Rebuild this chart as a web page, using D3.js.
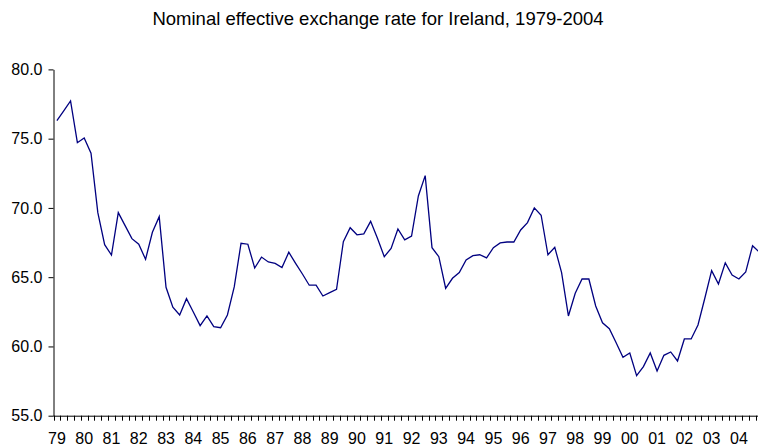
<!DOCTYPE html>
<html>
<head>
<meta charset="utf-8">
<script src="https://cdn.jsdelivr.net/npm/d3@7"></script>
<style>
  html, body { margin: 0; padding: 0; background: #fff; }
  svg { display: block; }
  text { font-family: "Liberation Sans", Arial, sans-serif; fill: #000; }
</style>
</head>
<body>
<svg id="chart" width="758" height="447"></svg>
<script>
const title = "Nominal effective exchange rate for Ireland, 1979-2004";
const years = ["79","80","81","82","83","84","85","86","87","88","89","90","91","92","93","94","95","96","97","98","99","00","01","02","03","04"];
const quarters = ["Q1","Q2","Q3","Q4"];
const values = [
  76.30, 77.01, 77.72, 74.71,
  75.05, 73.95, 69.66, 67.35,
  66.60, 69.66, 68.72, 67.78,
  67.38, 66.29, 68.24, 69.37,
  64.27, 62.83, 62.27, 63.45,
  62.49, 61.50, 62.20, 61.43,
  61.35, 62.27, 64.30, 67.45,
  67.38, 65.66, 66.45, 66.10,
  66.00, 65.69, 66.80, 66.00,
  65.23, 64.42, 64.42, 63.64,
  63.88, 64.13, 67.56, 68.57,
  68.06, 68.13, 69.03, 67.81,
  66.48, 67.08, 68.48, 67.69,
  67.97, 70.86, 72.33, 67.13,
  66.48, 64.20, 64.92, 65.33,
  66.24, 66.55, 66.62, 66.39,
  67.13, 67.47, 67.54, 67.54,
  68.41, 68.94, 70.00, 69.47,
  66.62, 67.16, 65.33, 62.20,
  63.84, 64.87, 64.87, 62.92,
  61.71, 61.28, 60.27, 59.22,
  59.53, 57.89, 58.54, 59.53,
  58.23, 59.36, 59.60, 58.95,
  60.54, 60.54, 61.55, 63.48,
  65.47, 64.51, 66.03, 65.16,
  64.87, 65.38, 67.27, 66.80
];
const yTicks = [55, 60, 65, 70, 75, 80];

const categories = [];
years.forEach(yr => quarters.forEach(q => categories.push(yr + q)));
const data = categories.map((c, i) => ({ cat: c, value: values[i] }));

const svg = d3.select("#chart");
const plotLeft = 53.5, plotTop = 69.4, plotBottom = 415.7;
const step = 6.82;
const plotRight = plotLeft + step * categories.length;

const x = d3.scaleBand().domain(categories).range([plotLeft, plotRight]).paddingInner(0).paddingOuter(0);
const y = d3.scaleLinear().domain([55, 80]).range([plotBottom, plotTop]);

// Title
svg.append("text")
  .attr("x", 378).attr("y", 25)
  .attr("text-anchor", "middle")
  .style("font-size", "18.5px")
  .text(title);

// Y axis
const yAxis = d3.axisLeft(y).tickValues(yTicks).tickFormat(d3.format(".1f")).tickSize(5).tickSizeOuter(0).tickPadding(6);
const gy = svg.append("g").attr("transform", `translate(${plotLeft},0)`).call(yAxis);
gy.select(".domain").attr("stroke", "#000");
gy.selectAll(".tick line").attr("stroke", "#000");
gy.selectAll(".tick text").style("font-size", "16px").style("font-family", "'Liberation Sans', Arial, sans-serif");

// X axis line
const gx = svg.append("g");
gx.append("line")
  .attr("x1", plotLeft).attr("x2", plotRight)
  .attr("y1", plotBottom + 0.5).attr("y2", plotBottom + 0.5)
  .attr("stroke", "#000");
// Tick marks at category boundaries
const bounds = categories.map(c => x(c)).concat([plotRight]);
gx.selectAll("line.xt").data(bounds).enter().append("line")
  .attr("class", "xt")
  .attr("x1", d => Math.round(d) + 0.5).attr("x2", d => Math.round(d) + 0.5)
  .attr("y1", plotBottom).attr("y2", plotBottom + 5)
  .attr("stroke", "#000");
// Year labels at Q1 category centers
gx.selectAll("text.xl").data(categories.filter((c, i) => i % 4 === 0)).enter().append("text")
  .attr("class", "xl")
  .attr("x", d => x(d) + x.bandwidth() / 2)
  .attr("y", 444)
  .attr("text-anchor", "middle")
  .style("font-size", "16px")
  .text(d => d.slice(0, 2));

// Line
const line = d3.line()
  .x(d => x(d.cat) + x.bandwidth() / 2)
  .y(d => y(d.value));
svg.append("path")
  .datum(data)
  .attr("d", line)
  .attr("fill", "none")
  .attr("stroke", "#000080")
  .attr("stroke-width", 1.3)
  .attr("stroke-linejoin", "miter");
</script>
</body>
</html>
